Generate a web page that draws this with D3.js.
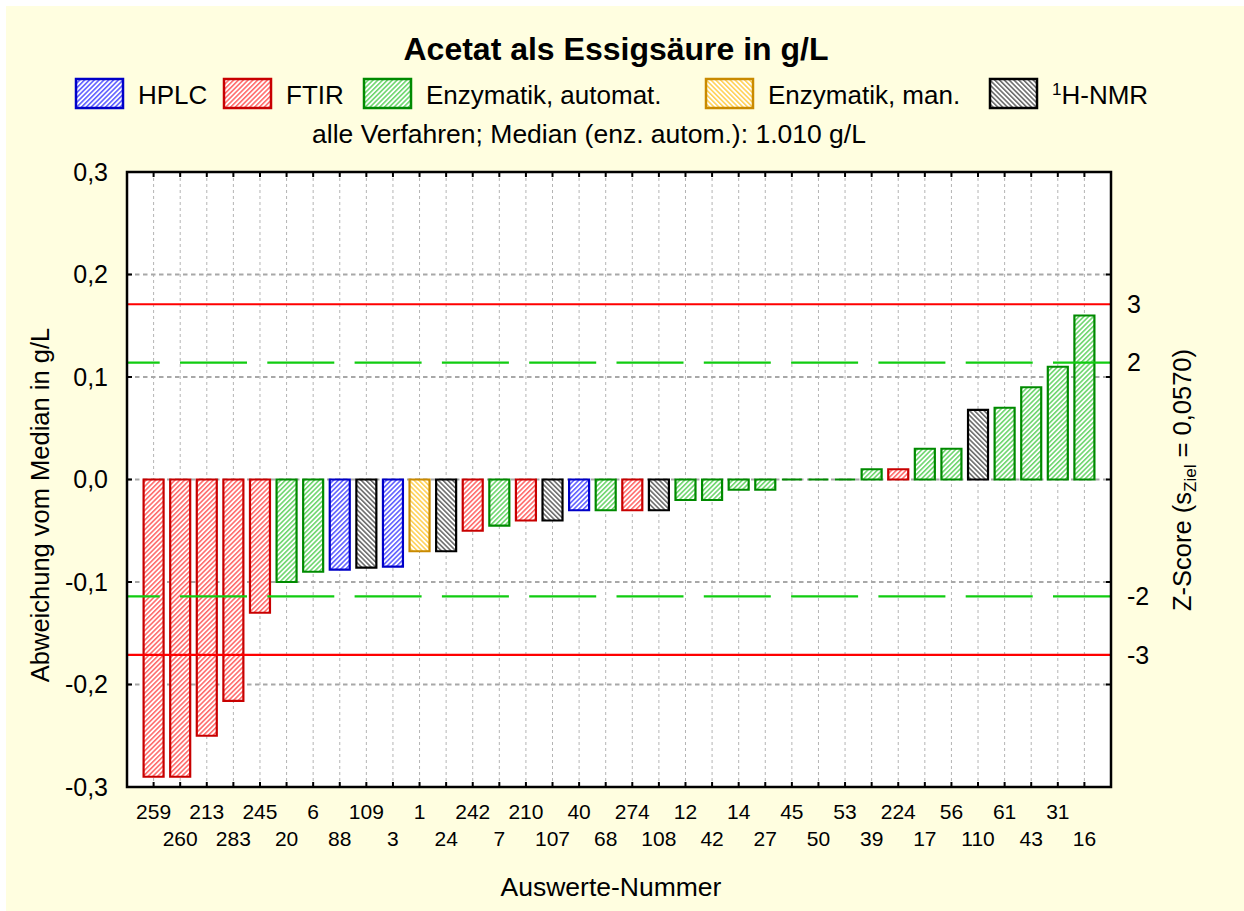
<!DOCTYPE html>
<html>
<head>
<meta charset="utf-8">
<script src="https://cdn.jsdelivr.net/npm/d3@7"></script>
<style>
  html, body { margin: 0; padding: 0; background: #ffffff; }
  svg { display: block; }
  text { font-family: "Liberation Sans", Arial, Helvetica, sans-serif; fill: #000; }
</style>
</head>
<body>
<svg id="chart" width="1244" height="911"></svg>
<script>
// Lab numbers ("Auswerte-Nummer"), sorted by deviation from the median
const labNumbers = ["259","260","213","283","245","20","6","88","109","3","1","24",
  "242","7","210","107","40","68","274","108","12","42","14","27","45","50","53",
  "39","224","17","56","110","61","43","31","16"];

// Deviation from the median in g/L
const deviations = [-0.29,-0.29,-0.25,-0.216,-0.13,-0.10,-0.09,-0.088,-0.086,-0.085,-0.07,-0.07,
  -0.05,-0.045,-0.04,-0.04,-0.03,-0.03,-0.03,-0.03,-0.02,-0.02,-0.01,-0.01,0,0,0,
  0.01,0.01,0.03,0.03,0.068,0.07,0.09,0.11,0.16];

// Measuring method of each lab
const methods = ["FTIR","FTIR","FTIR","FTIR","FTIR","EA","EA","HPLC","NMR","HPLC","EM","NMR",
  "FTIR","EA","FTIR","NMR","HPLC","EA","FTIR","NMR","EA","EA","EA","EA","EA","EA","EA",
  "EA","FTIR","EA","EA","NMR","EA","EA","EA","EA"];

const methodKeys = ["HPLC","FTIR","EA","EM","NMR"];
const methodLabels = ["HPLC","FTIR","Enzymatik, automat.","Enzymatik, man.","H-NMR"];

const yTickValues = [-0.3,-0.2,-0.1,0.0,0.1,0.2,0.3];
const gridValues = [-0.2,-0.1,0.0,0.1,0.2];
const zScoreTicks = [3,2,-2,-3];
const sTarget = 0.0570;

const titleText = "Acetat als Essigsäure in g/L";
const subtitleText = "alle Verfahren; Median (enz. autom.): 1.010 g/L";
const xTitle = "Auswerte-Nummer";
const yTitle = "Abweichung vom Median in g/L";

// ---- styling per method ----
const methodStyle = {
  HPLC: { stroke: "#0000c8", hatch: "#3a3aff", dir: 45 },
  FTIR: { stroke: "#c80000", hatch: "#ff4a4a", dir: 45 },
  EA:   { stroke: "#008a00", hatch: "#4ccc4c", dir: 45 },
  EM:   { stroke: "#c98a00", hatch: "#ffc830", dir: -45 },
  NMR:  { stroke: "#000000", hatch: "#4a4a4a", dir: -45 }
};

const svg = d3.select("#chart");
const W = 1244, H = 911;
const plot = { left: 127, right: 1111, top: 172, bottom: 787 };

// page background
svg.append("rect").attr("x", 6).attr("y", 6).attr("width", W - 6).attr("height", H - 6)
  .attr("fill", "#fffee0");

// hatch patterns
const defs = svg.append("defs");
methodKeys.forEach(k => {
  const st = methodStyle[k];
  const p = defs.append("pattern")
    .attr("id", "hatch-" + k)
    .attr("patternUnits", "userSpaceOnUse")
    .attr("width", 3.4).attr("height", 3.4)
    .attr("patternTransform", `rotate(${st.dir})`);
  p.append("rect").attr("width", 3.4).attr("height", 3.4).attr("fill", "#ffffff");
  p.append("line").attr("x1", 0.8).attr("y1", 0).attr("x2", 0.8).attr("y2", 3.4)
    .attr("stroke", st.hatch).attr("stroke-width", 1.3);
});

// scales
const x = d3.scalePoint().domain(labNumbers).range([plot.left, plot.right]).padding(1);
const y = d3.scaleLinear().domain([-0.3, 0.3]).range([plot.bottom, plot.top]);
const barW = 20;

// plot area
svg.append("rect").attr("x", plot.left).attr("y", plot.top)
  .attr("width", plot.right - plot.left).attr("height", plot.bottom - plot.top)
  .attr("fill", "#ffffff");

// vertical grid at each lab
svg.append("g").selectAll("line").data(labNumbers).join("line")
  .attr("x1", d => x(d)).attr("x2", d => x(d))
  .attr("y1", plot.top).attr("y2", plot.bottom)
  .attr("stroke", "#b4b4b4").attr("stroke-width", 1).attr("stroke-dasharray", "3,3");

// horizontal grid
svg.append("g").selectAll("line").data(gridValues).join("line")
  .attr("x1", plot.left).attr("x2", plot.right)
  .attr("y1", d => y(d)).attr("y2", d => y(d))
  .attr("stroke", "#a8a8a8").attr("stroke-width", 2).attr("stroke-dasharray", "4.5,3.5");

// bars (paths, so that zero deviations still show as a flat outline)
const rows = labNumbers.map((lab, i) => ({ lab, v: deviations[i], m: methods[i] }));
svg.append("g").selectAll("path").data(rows).join("path")
  .attr("d", d => {
    const x0 = x(d.lab) - barW / 2;
    const y0 = y(0), y1 = y(d.v);
    return `M${x0},${y0}V${y1}H${x0 + barW}V${y0}Z`;
  })
  .attr("fill", d => `url(#hatch-${d.m})`)
  .attr("stroke", d => methodStyle[d.m].stroke)
  .attr("stroke-width", 2.2);

// z-score limits: |z| = 2 (green dashed), |z| = 3 (red)
[2, -2].forEach(z => {
  svg.append("line")
    .attr("x1", plot.left).attr("x2", plot.right)
    .attr("y1", y(z * sTarget)).attr("y2", y(z * sTarget))
    .attr("stroke", "#11cc11").attr("stroke-width", 2.2)
    .attr("stroke-dasharray", "67,20.3").attr("stroke-dashoffset", 34.3);
});
[3, -3].forEach(z => {
  svg.append("line")
    .attr("x1", plot.left).attr("x2", plot.right)
    .attr("y1", y(z * sTarget)).attr("y2", y(z * sTarget))
    .attr("stroke", "#ff0000").attr("stroke-width", 2.2);
});

// frame
svg.append("rect").attr("x", plot.left).attr("y", plot.top)
  .attr("width", plot.right - plot.left).attr("height", plot.bottom - plot.top)
  .attr("fill", "none").attr("stroke", "#000").attr("stroke-width", 2.5);

// inward ticks: left/right on value axis, top/bottom on categories
const tickLen = 5;
const tg = svg.append("g").attr("stroke", "#000").attr("stroke-width", 2);
yTickValues.forEach(v => {
  tg.append("line").attr("x1", plot.left).attr("x2", plot.left + tickLen).attr("y1", y(v)).attr("y2", y(v));
  tg.append("line").attr("x1", plot.right).attr("x2", plot.right - tickLen).attr("y1", y(v)).attr("y2", y(v));
});
labNumbers.forEach(d => {
  tg.append("line").attr("x1", x(d)).attr("x2", x(d)).attr("y1", plot.top).attr("y2", plot.top + tickLen);
  tg.append("line").attr("x1", x(d)).attr("x2", x(d)).attr("y1", plot.bottom).attr("y2", plot.bottom - tickLen);
});

// left axis labels
const fmt = v => d3.format(".1f")(v).replace(".", ",").replace("−", "-");
svg.append("g").selectAll("text").data(yTickValues).join("text")
  .attr("x", plot.left - 19).attr("y", d => y(d))
  .attr("dy", "0.35em").attr("text-anchor", "end")
  .style("font-size", "25px")
  .text(fmt);

// right z-score labels
svg.append("g").selectAll("text").data(zScoreTicks).join("text")
  .attr("x", plot.right + 16).attr("y", d => y(d * sTarget))
  .attr("dy", "0.35em").attr("text-anchor", "start")
  .style("font-size", "25px")
  .text(d => d < 0 ? "-" + Math.abs(d) : String(d));

// category labels in two staggered rows
svg.append("g").selectAll("text").data(labNumbers).join("text")
  .attr("x", d => x(d))
  .attr("y", (d, i) => i % 2 === 0 ? 819 : 846)
  .attr("text-anchor", "middle")
  .style("font-size", "21px")
  .text(d => d);

// axis titles
svg.append("text").attr("x", 611).attr("y", 896).attr("text-anchor", "middle")
  .style("font-size", "26.5px").text(xTitle);
svg.append("text").attr("transform", "translate(49,505) rotate(-90)")
  .attr("text-anchor", "middle").style("font-size", "25.5px").text(yTitle);

const zt = svg.append("text").attr("transform", "translate(1191,480) rotate(-90)")
  .attr("text-anchor", "middle").style("font-size", "25.5px");
zt.append("tspan").text("Z-Score (s");
zt.append("tspan").attr("baseline-shift", "-30%").style("font-size", "17px").text("Ziel");
zt.append("tspan").text(" = 0,0570)");

// title and subtitle
svg.append("text").attr("x", 616).attr("y", 60).attr("text-anchor", "middle")
  .style("font-size", "32px").style("font-weight", "bold").text(titleText);
svg.append("text").attr("x", 589).attr("y", 143).attr("text-anchor", "middle")
  .style("font-size", "26.5px").text(subtitleText);

// legend
const legendSlotX = [76, 224, 364, 706, 990];
const lg = svg.append("g");
methodKeys.forEach((k, i) => {
  const st = methodStyle[k];
  const gx = legendSlotX[i];
  lg.append("rect").attr("x", gx).attr("y", 79).attr("width", 47).attr("height", 29)
    .attr("fill", `url(#hatch-${k})`).attr("stroke", st.stroke).attr("stroke-width", 2.5);
  const t = lg.append("text").attr("x", gx + 62).attr("y", 104).style("font-size", "26px");
  if (k === "NMR") {
    t.append("tspan").attr("baseline-shift", "super").style("font-size", "17px").text("1");
  }
  t.append("tspan").text(methodLabels[i]);
});
</script>
</body>
</html>
